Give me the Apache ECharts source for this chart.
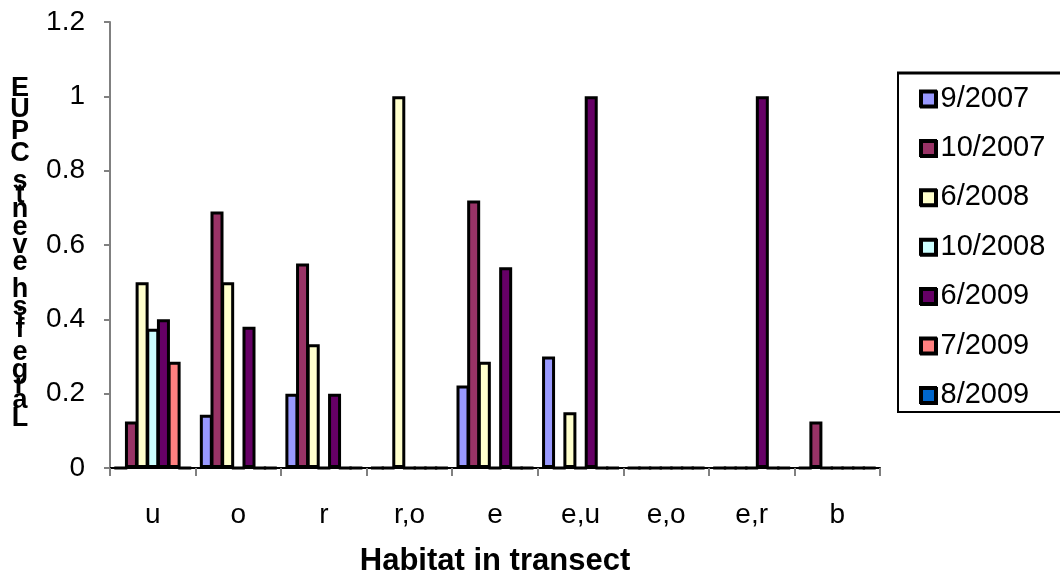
<!DOCTYPE html>
<html>
<head>
<meta charset="utf-8">
<script src="https://cdn.jsdelivr.net/npm/echarts@6/dist/echarts.min.js"></script>
<style>
html,body{margin:0;padding:0;background:#fff;overflow:hidden;}
#chart{width:1060px;height:575px;}
</style>
</head>
<body>
<div id="chart"></div>
<script>
var categories = ['u', 'o', 'r', 'r,o', 'e', 'e,u', 'e,o', 'e,r', 'b'];
var seriesNames = ['9/2007', '10/2007', '6/2008', '10/2008', '6/2009', '7/2009', '8/2009'];
var v_9_2007  = [0,     0.143, 0.2,   0, 0.222, 0.3,  0, 0, 0];
var v_10_2007 = [0.125, 0.69,  0.55,  0, 0.72,  0,    0, 0, 0.125];
var v_6_2008  = [0.5,   0.5,   0.333, 1, 0.286, 0.15, 0, 0, 0];
var v_10_2008 = [0.375, 0,     0,     0, 0,     0,    0, 0, 0];
var v_6_2009  = [0.4,   0.38,  0.2,   0, 0.54,  1,    0, 1, 0];
var v_7_2009  = [0.286, 0,     0,     0, 0,     0,    0, 0, 0];
var v_8_2009  = [0,     0,     0,     0, 0,     0,    0, 0, 0];
var yTicks = [0, 0.2, 0.4, 0.6, 0.8, 1, 1.2];
var yName = 'EUPC stneve hsif egraL';
var xName = 'Habitat in transect';

var values = [v_9_2007, v_10_2007, v_6_2008, v_10_2008, v_6_2009, v_7_2009, v_8_2009];
var colors = ['#9999FF', '#993366', '#FFFFCC', '#CCFFFF', '#660066', '#FF8080', '#0066CC'];
var FONT = '"Liberation Sans", Arial, sans-serif';

// stacked y-axis name: each upright glyph advances by its (bold Arial) width
var advance = {E: .667, U: .722, P: .667, C: .722, ' ': .278, s: .556, t: .333, n: .611,
  e: .556, v: .556, h: .611, i: .278, f: .333, g: .611, r: .389, a: .556, L: .611};
var EM = 31;
var rich = {};
var lines = yName.split('').map(function (c) {
  var w = advance[c] || 0.556;
  var key = 'w' + Math.round(w * 1000);
  if (!rich[key]) {
    rich[key] = {fontFamily: FONT, fontSize: 27, fontWeight: 'bold', color: '#000',
      lineHeight: w * EM, align: 'center'};
  }
  return '{' + key + '|' + c + '}';
});

var chart = echarts.init(document.getElementById('chart'), null, {renderer: 'canvas'});
var series = seriesNames.map(function (n, i) {
  return {
    name: n,
    type: 'bar',
    data: values[i],
    barGap: '-18%',
    barCategoryGap: '10%',
    itemStyle: {color: colors[i], borderColor: '#000', borderWidth: 3},
    emphasis: {disabled: true}
  };
});

chart.setOption({
  animation: false,
  backgroundColor: '#fff',
  textStyle: {fontFamily: FONT},
  grid: {left: 110, right: 180, top: 22, bottom: 107, containLabel: false, outerBoundsMode: 'none'},
  xAxis: {
    type: 'category',
    data: categories,
    name: xName,
    nameLocation: 'middle',
    nameGap: 78,
    nameTextStyle: {fontFamily: FONT, fontSize: 31, fontWeight: 'bold', color: '#000'},
    axisLine: {lineStyle: {color: '#000', width: 2}},
    axisTick: {show: true, alignWithLabel: false, length: 8, lineStyle: {color: '#808080', width: 2}},
    axisLabel: {fontFamily: FONT, fontSize: 28, color: '#000', margin: 33}
  },
  yAxis: {
    type: 'value',
    min: 0,
    max: 1.2,
    interval: 0.2,
    axisLine: {show: true, lineStyle: {color: '#808080', width: 2}},
    axisTick: {show: true, inside: false, length: 6, lineStyle: {color: '#808080', width: 2}},
    splitLine: {show: false},
    axisLabel: {
      fontFamily: FONT, fontSize: 28, color: '#000', margin: 25,
      formatter: function (v) {
        for (var k = 0; k < yTicks.length; k++) {
          if (Math.abs(yTicks[k] - v) < 1e-9) return String(yTicks[k]);
        }
        return '';
      }
    }
  },
  legend: {
    orient: 'vertical',
    left: 919,
    top: 84,
    padding: 0,
    itemGap: 20.4,
    itemWidth: 15,
    itemHeight: 15,
    icon: 'rect',
    itemStyle: {borderColor: '#000', borderWidth: 3, shadowColor: '#000', shadowOffsetX: 1, shadowOffsetY: 1, shadowBlur: 0},
    textStyle: {fontFamily: FONT, fontSize: 29, color: '#000', lineHeight: 28, padding: [0, 0, 0, 0]},
    data: seriesNames,
    selectedMode: false
  },
  graphic: [
    {
      type: 'polyline',
      shape: {points: [[1060, 412], [898, 412], [898, 73]]},
      style: {fill: 'none', stroke: '#000', lineWidth: 2},
      silent: true
    },
    {
      type: 'line',
      shape: {x1: 897, y1: 73, x2: 1060, y2: 73},
      style: {stroke: '#000', lineWidth: 3},
      silent: true
    },
    {
      type: 'text',
      x: 20,
      y: 253,
      style: {
        text: lines.join('\n'),
        rich: rich,
        fontFamily: FONT,
        fontSize: 27,
        fontWeight: 'bold',
        fill: '#000',
        align: 'center',
        verticalAlign: 'middle'
      },
      silent: true
    }
  ],
  series: series
});
</script>
</body>
</html>
